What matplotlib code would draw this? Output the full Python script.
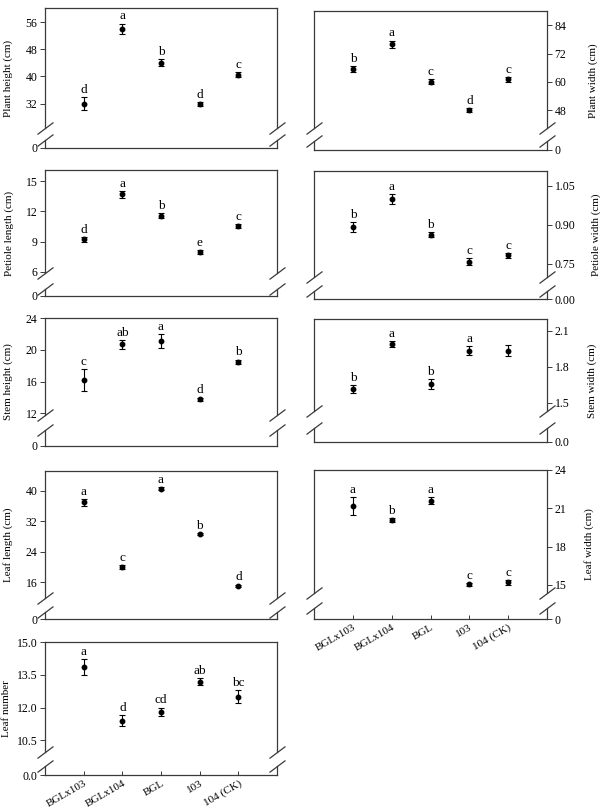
import matplotlib
matplotlib.use("Agg")
import matplotlib.pyplot as plt
import numpy as np

plt.rcParams['font.family'] = ['Liberation Serif', 'DejaVu Serif']
plt.rcParams['font.size'] = 8.5

categories = ['BGLx103', 'BGLx104', 'BGL', '103', '104 (CK)']

plant_height = [32.0, 54.0, 44.1, 31.8, 40.5]
plant_height_err = [1.8, 1.6, 1.0, 0.6, 0.8]
plant_height_sig = ['d', 'a', 'b', 'd', 'c']

plant_width = [65.4, 75.9, 60.1, 48.0, 61.1]
plant_width_err = [1.2, 1.6, 1.0, 0.8, 1.1]
plant_width_sig = ['b', 'a', 'c', 'd', 'c']

petiole_length = [9.23, 13.68, 11.57, 8.0, 10.55]
petiole_length_err = [0.22, 0.35, 0.25, 0.18, 0.2]
petiole_length_sig = ['d', 'a', 'b', 'e', 'c']

petiole_width = [0.891, 0.997, 0.862, 0.759, 0.783]
petiole_width_err = [0.019, 0.019, 0.010, 0.012, 0.009]
petiole_width_sig = ['b', 'a', 'b', 'c', 'c']

stem_height = [16.2, 20.7, 21.1, 13.75, 18.46]
stem_height_err = [1.35, 0.55, 0.85, 0.25, 0.3]
stem_height_sig = ['c', 'ab', 'a', 'd', 'b']

stem_width = [1.614, 1.99, 1.66, 1.936, 1.936]
stem_width_err = [0.035, 0.025, 0.04, 0.04, 0.048]
stem_width_sig = ['b', 'a', 'b', 'a', '']

leaf_length = [36.95, 20.0, 40.6, 28.7, 15.1]
leaf_length_err = [0.9, 0.5, 0.4, 0.2, 0.3]
leaf_length_sig = ['a', 'c', 'a', 'b', 'd']

leaf_width = [21.18, 20.06, 21.6, 15.05, 15.2]
leaf_width_err = [0.7, 0.15, 0.25, 0.1, 0.2]
leaf_width_sig = ['a', 'b', 'a', 'c', 'c']

leaf_number = [13.87, 11.40, 11.8, 13.19, 12.49]
leaf_number_err = [0.36, 0.25, 0.2, 0.17, 0.3]
leaf_number_sig = ['a', 'd', 'cd', 'ab', 'bc']

W, H = 601, 807
fig = plt.figure(figsize=(W / 100, H / 100), dpi=100)
fig.patch.set_facecolor('white')

EDGE = '#3a3a3a'
slash = [(-1, -0.75), (1, 0.75)]


def px_axes(x0, x1, top, bot):
    return fig.add_axes([x0 / W, 1 - bot / H, (x1 - x0) / W, (bot - top) / H])


# (side, top, upper bottom, lower top, bottom, ylim, ticks, fmt, zero, label, label x, data)
panels = [
    ('L', 8, 128, 140, 148, (24.8, 60.2), [32, 40, 48, 56], '%d', '0', 'Plant height (cm)', 8.5,
     plant_height, plant_height_err, plant_height_sig),
    ('R', 11, 128, 141, 150, (40.5, 90.0), [48, 60, 72, 84], '%d', '0', 'Plant width (cm)', 593,
     plant_width, plant_width_err, plant_width_sig),
    ('L', 170, 273, 289, 296, (5.9, 16.1), [6, 9, 12, 15], '%d', '0', 'Petiole length (cm)', 9,
     petiole_length, petiole_length_err, petiole_length_sig),
    ('R', 171, 277, 291, 299, (0.70, 1.106), [0.75, 0.90, 1.05], '%.2f', '0.00', 'Petiole width (cm)', 596,
     petiole_width, petiole_width_err, petiole_width_sig),
    ('L', 318, 415, 430, 446, (11.8, 24.0), [12, 16, 20, 24], '%d', '0', 'Stem height (cm)', 8,
     stem_height, stem_height_err, stem_height_sig),
    ('R', 319, 411, 428, 442, (1.433, 2.2), [1.5, 1.8, 2.1], '%.1f', '0.0', 'Stem width (cm)', 592,
     stem_width, stem_width_err, stem_width_sig),
    ('L', 471, 598, 612, 619, (11.9, 45.2), [16, 24, 32, 40], '%d', '0', 'Leaf length (cm)', 8,
     leaf_length, leaf_length_err, leaf_length_sig),
    ('R', 470, 593, 608, 619, (14.37, 24.0), [15, 18, 21, 24], '%d', '0', 'Leaf width (cm)', 589,
     leaf_width, leaf_width_err, leaf_width_sig),
    ('L', 642, 752, 766, 775, (9.95, 15.02), [10.5, 12.0, 13.5, 15.0], '%.1f', '0.0', 'Leaf number', 6.5,
     leaf_number, leaf_number_err, leaf_number_sig),
]

xpos = np.arange(1, len(categories) + 1)

for i, (side, top, ub, lt, bot, ylim, ticks, fmt, zero, label, lx, vals, errs, sig) in enumerate(panels):
    x0, x1 = (45, 277) if side == 'L' else (314, 547)
    ax = px_axes(x0, x1, top, ub)
    axl = px_axes(x0, x1, lt, bot)

    ax.errorbar(xpos, vals, yerr=errs, fmt='o', color='black', ms=3.2,
                capsize=2.5, elinewidth=0.8, capthick=0.8)
    for x, v, e, s in zip(xpos, vals, errs, sig):
        ax.annotate(s, (x, v + e), xytext=(0, 3), textcoords='offset points',
                    ha='center', va='baseline', fontsize=9.5)

    ax.set_xlim(0, 6)
    ax.set_ylim(*ylim)
    ax.set_yticks(ticks)
    ax.set_yticklabels([fmt % t for t in ticks])
    ax.set_xticks([])
    ax.spines['bottom'].set_visible(False)

    axl.set_xlim(0, 6)
    axl.set_ylim(0, 1)
    axl.set_yticks([0])
    axl.set_yticklabels([zero])
    axl.spines['top'].set_visible(False)
    axl.patch.set_alpha(0)

    is_last = i >= len(panels) - 2
    if is_last:
        axl.set_xticks(xpos)
        axl.set_xticklabels(categories, rotation=30, ha='right', va='top',
                            rotation_mode='anchor', fontsize=8)
        axl.tick_params(axis='x', direction='in', length=3, width=0.7, color=EDGE, pad=2.5)
    else:
        axl.set_xticks([])

    for a in (ax, axl):
        for sp in a.spines.values():
            sp.set_color(EDGE)
            sp.set_linewidth(0.9)
        a.tick_params(axis='y', direction='out', length=3.5, width=0.7, color=EDGE, pad=2)
        if side == 'R':
            a.yaxis.tick_right()

    ax.plot([0, 1], [0, 0], transform=ax.transAxes, marker=slash, ms=11.5,
            ls='none', mec=EDGE, mew=0.9, clip_on=False)
    axl.plot([0, 1], [1, 1], transform=axl.transAxes, marker=slash, ms=11.5,
             ls='none', mec=EDGE, mew=0.9, clip_on=False)

    fig.text(lx / W, 1 - (top + bot) / 2 / H, label, rotation=90,
             ha='center', va='center', fontsize=8)

fig.savefig('out.png', dpi=100, facecolor='white')
